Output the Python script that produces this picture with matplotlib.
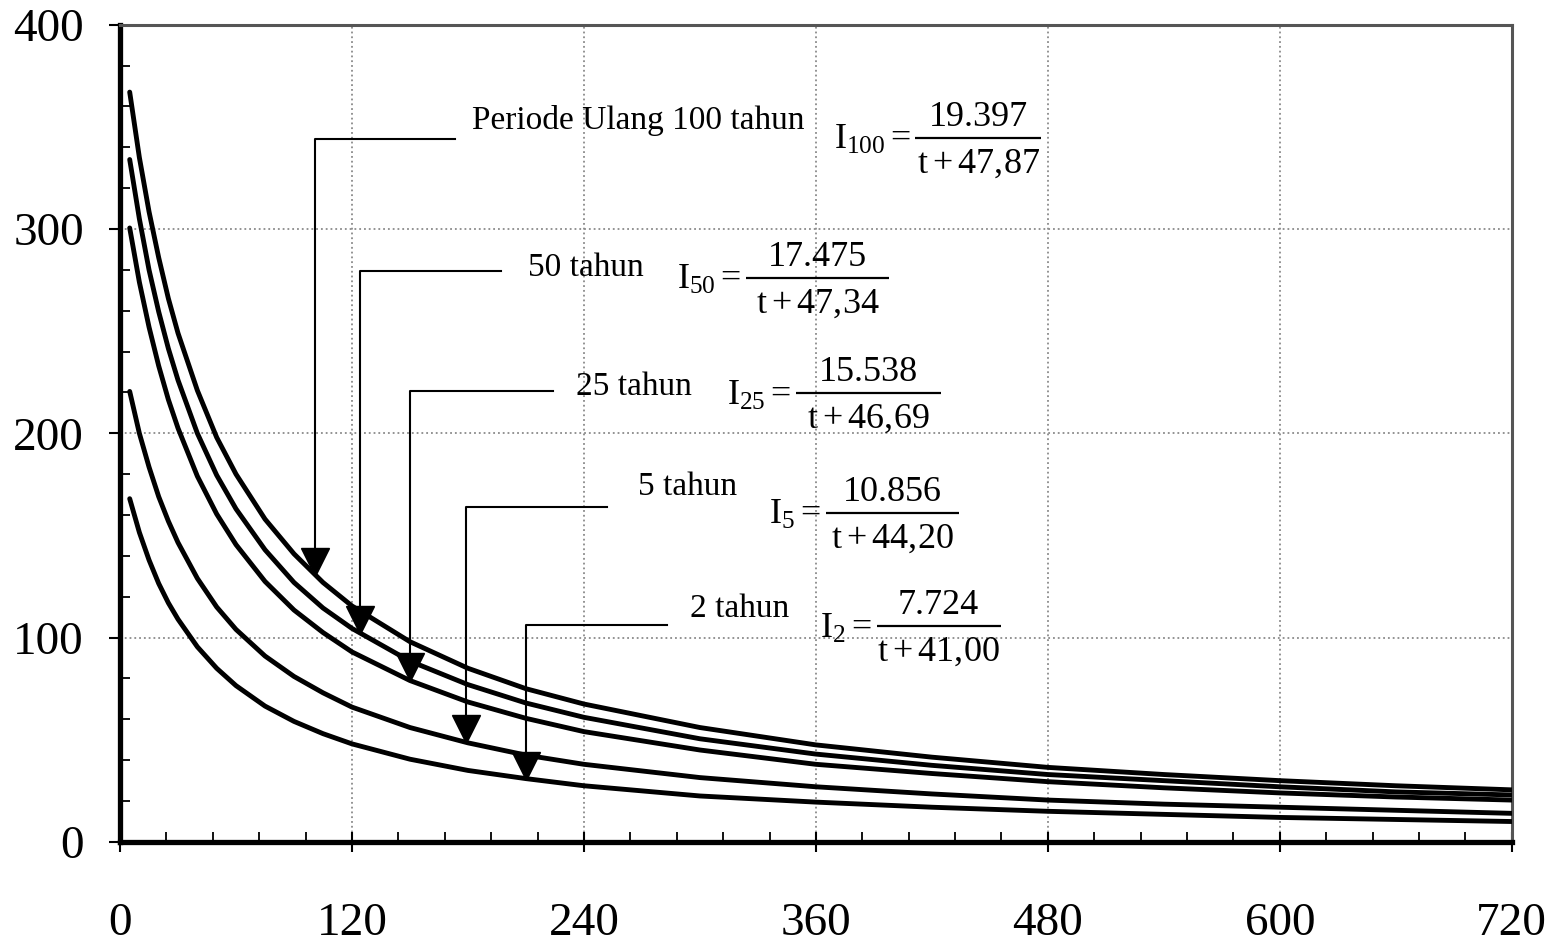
import matplotlib
matplotlib.use('Agg')
from matplotlib import pyplot as plt
from matplotlib import transforms
from matplotlib.ticker import MultipleLocator

plt.rcParams['font.family'] = ['Liberation Serif', 'DejaVu Serif']
plt.rcParams['mathtext.fontset'] = 'custom'
plt.rcParams['mathtext.rm'] = 'Liberation Serif'
plt.rcParams['mathtext.it'] = 'Liberation Serif:italic'

# durasi (menit) dan intensitas (mm/jam)
t = [5, 10, 15, 20, 25, 30, 40, 50, 60, 75, 90, 105, 120, 150, 180, 210,
     240, 300, 360, 420, 480, 540, 600, 660, 720]
i100 = [367, 335, 308.5, 286, 266, 249, 221, 198, 180, 158, 141, 127, 115.5,
        98, 85, 75, 67.5, 56, 47.5, 41.5, 36.5, 33, 30, 27.5, 25.5]
i50 = [334, 305, 280, 259.5, 241.5, 226, 200, 179.5, 163, 143, 127, 114.5,
       104.5, 88.5, 77, 68, 61, 50.5, 43, 37.5, 33, 30, 27, 24.5, 23]
i25 = [300.5, 274, 252, 233, 216.5, 202.5, 179, 160.5, 145.5, 127.5, 113.5,
       102.5, 93, 79, 68.5, 60.5, 54, 45, 38, 33.5, 29.5, 26.5, 24, 22, 20.5]
i5 = [220.5, 200, 183.5, 169, 157, 146.5, 129, 115, 104, 91, 81, 73, 66, 56,
      48.5, 42.5, 38, 31.5, 27, 23.5, 20.5, 18.5, 17, 15.5, 14]
i2 = [168, 151.5, 138, 126.5, 117, 109, 95.5, 85, 76.5, 66.5, 59, 53, 48,
      40.5, 35, 31, 27.5, 22.5, 19.5, 17, 15, 13.5, 12, 11, 10]
series = [i100, i50, i25, i5, i2]

# keterangan tiap kurva
labels = ['Periode Ulang 100 tahun', '50 tahun', '25 tahun', '5 tahun', '2 tahun']
lhs = [r'$\mathrm{I}_{100}=$', r'$\mathrm{I}_{50}=$', r'$\mathrm{I}_{25}=$',
       r'$\mathrm{I}_{5}=$', r'$\mathrm{I}_{2}=$']
numerators = ['19.397', '17.475', '15.538', '10.856', '7.724']
denominators = [r'$\mathrm{t} + 47{,}87$', r'$\mathrm{t} + 47{,}34$',
                r'$\mathrm{t} + 46{,}69$', r'$\mathrm{t} + 44{,}20$',
                r'$\mathrm{t} + 41{,}00$']
arrow_t = [101, 124, 150, 179, 210]
arrow_tip = [130, 102, 79, 48.5, 30.5]
leader_y = [344, 279.5, 220.5, 164, 106]
leader_end = [173.5, 197, 224, 252, 283]
label_pos = [(182, 353), (211, 281), (236, 223), (268, 174), (295, 114)]
bar_left = [411.5, 324, 349.5, 365, 391.5]
bar_right = [476.5, 398, 424.5, 434, 455.5]
bar_y = [344.5, 276, 219.5, 161, 105.5]

fig = plt.figure(figsize=(15.65, 9.49), dpi=100)
ax = fig.add_axes([0.0767, 0.1128, 0.8893, 0.8612])

for y in series:
    ax.plot(t, y, color='black', lw=3.5, solid_capstyle='round', zorder=3)

tr_tri = transforms.offset_copy(ax.transData, fig=fig, x=0, y=10, units='points')
for k in range(len(labels)):
    x0 = arrow_t[k]
    ax.plot([x0, x0, leader_end[k]], [arrow_tip[k] + 8, leader_y[k], leader_y[k]],
            color='black', lw=1.5, zorder=4)
    ax.plot([x0], [arrow_tip[k]], marker='v', ms=20, color='black',
            transform=tr_tri, zorder=5, linestyle='none')
    ax.text(label_pos[k][0], label_pos[k][1], labels[k], fontsize=24,
            ha='left', va='center')

    # persamaan: I = a / (t + b)
    cx = (bar_left[k] + bar_right[k]) / 2
    ax.plot([bar_left[k], bar_right[k]], [bar_y[k], bar_y[k]], color='black',
            lw=1.6, solid_capstyle='butt', zorder=4)
    ax.text(cx, bar_y[k] + 6, numerators[k], fontsize=26, ha='center',
            va='baseline')
    ax.text(cx, bar_y[k] - 17, denominators[k], fontsize=26, ha='center',
            va='baseline')
    ax.text(bar_left[k] - 2.5, bar_y[k] - 5.5, lhs[k], fontsize=26, ha='right',
            va='baseline')

ax.set_xlim(0, 720)
ax.set_ylim(0, 400)
ax.xaxis.set_major_locator(MultipleLocator(120))
ax.xaxis.set_minor_locator(MultipleLocator(24))
ax.yaxis.set_major_locator(MultipleLocator(100))
ax.yaxis.set_minor_locator(MultipleLocator(20))
ax.grid(True, which='major', color='#8a8a8a', linestyle=':', lw=1.3, zorder=0)

ax.tick_params(axis='x', which='major', direction='inout', length=15, width=1.5,
               labelsize=34, pad=36)
ax.tick_params(axis='x', which='minor', direction='in', length=7, width=1.3)
ax.tick_params(axis='y', which='major', direction='out', length=8, width=1.5,
               labelsize=34, pad=18)
ax.tick_params(axis='y', which='minor', direction='in', length=7, width=1.3)

for side in ['left', 'bottom']:
    ax.spines[side].set_linewidth(3.8)
    ax.spines[side].set_color('black')
for side in ['top', 'right']:
    ax.spines[side].set_linewidth(2.2)
    ax.spines[side].set_color('#555555')

fig.savefig('out.png', dpi=100)
